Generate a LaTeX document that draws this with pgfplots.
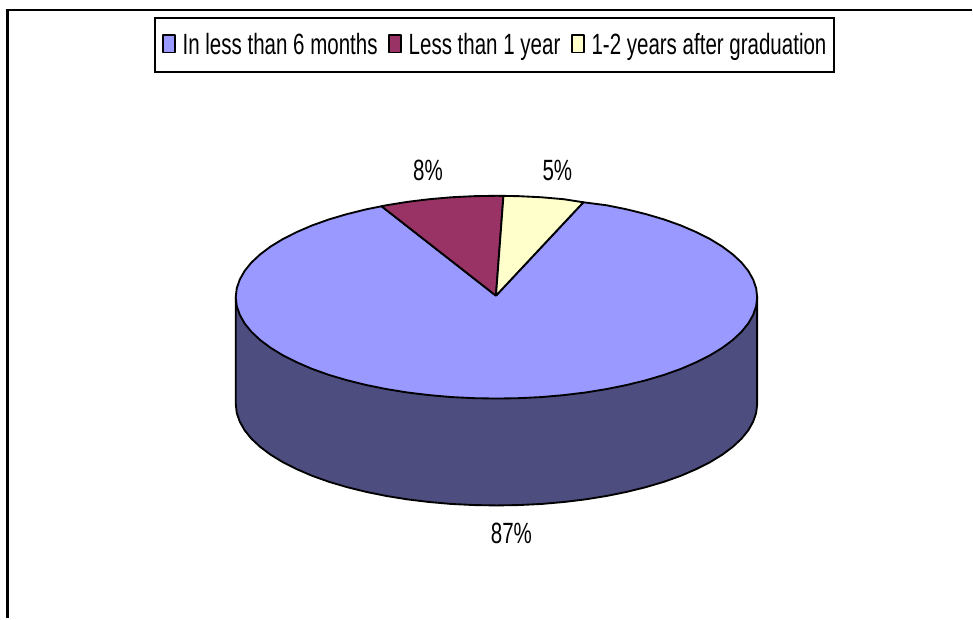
\documentclass[border=0pt]{standalone}
\usepackage{pgfplots}
\pgfplotsset{compat=1.18}
\usepackage{fontspec}
\setmainfont[FakeStretch=0.70]{Liberation Sans}
\definecolor{sliceA}{HTML}{9999FF}
\definecolor{sliceAside}{HTML}{4D4D80}
\definecolor{sliceB}{HTML}{993366}
\definecolor{sliceC}{HTML}{FFFFCC}
\newcommand{\chartfont}{\fontsize{22}{26}\selectfont}
\begin{document}
\begin{tikzpicture}[x=1pt,y=1pt]
\begin{axis}[
  scale only axis,
  width=729.75pt, height=464.25pt,
  xmin=0, xmax=973, ymin=0, ymax=619,
  y dir=reverse,
  axis lines=none,
  clip=false,
  legend columns=3,
  legend cell align=left,
  legend image code/.code={
    \draw[line width=1.4pt,#1] (0pt,1.5pt) rectangle (9pt,14.5pt);
  },
  legend style={
    at={(154/973,1-17/619)}, anchor=north west,
    draw=black, line width=1.4pt, fill=white,
    font=\chartfont, inner xsep=5.5pt, inner ysep=11.5pt,
    nodes={inner sep=0pt, anchor=base west},
    /tikz/every even column/.append style={column sep=8pt},
    /tikz/every odd column/.append style={column sep=5pt},
  },
  every axis plot/.append style={draw=black, line width=1.4pt, line join=round},
]
% Page extent, so the picture keeps its full size
\path (axis cs:0,0) rectangle (axis cs:973,619);

% Wall of the disc, under the top face
\addplot[fill=sliceAside, forget plot] coordinates {
  (236,297.5) (236,404.5) (237,413.35) (240,422.1) (244.9,430.8) (251.7,439.2)
  (260.5,447.4) (271,455.25) (283.2,462.7) (297.1,469.7) (312.4,476.3)
  (329.2,482.3) (347.3,487.65) (366.5,492.4) (386.7,496.5) (407.7,499.9)
  (429.5,502.55) (451.7,504.5) (474.2,505.6) (497,506) (519.8,505.6)
  (542.3,504.5) (564.5,502.55) (586.3,499.9) (607.3,496.5) (627.5,492.4)
  (646.7,487.65) (664.8,482.3) (681.6,476.3) (696.9,469.7) (710.8,462.7)
  (723,455.25) (733.5,447.4) (742.3,439.2) (749.1,430.8) (754,422.1)
  (757,413.35) (758,404.5) (758,297.5)
};

% Top face: In less than 6 months (87%)
\addplot[fill=sliceA] coordinates {
  (496.5,296) (584,202.5) (607.3,205.5) (627.5,209.6) (646.7,214.35) (664.8,219.7)
  (681.6,225.7) (696.9,232.3) (710.8,239.3) (723,246.75) (733.5,254.6)
  (742.3,262.8) (749.1,271.2) (754,279.9) (757,288.65) (758,297.5)
  (757,306.35) (754,315.1) (749.1,323.8) (742.3,332.2) (733.5,340.4)
  (723,348.25) (710.8,355.7) (696.9,362.7) (681.6,369.3) (664.8,375.3)
  (646.7,380.65) (627.5,385.4) (607.3,389.5) (586.3,392.9) (564.5,395.55)
  (542.3,397.5) (519.8,398.6) (497,399) (474.2,398.6) (451.7,397.5)
  (429.5,395.55) (407.7,392.9) (386.7,389.5) (366.5,385.4) (347.3,380.65)
  (329.2,375.3) (312.4,369.3) (297.1,362.7) (283.2,355.7) (271,348.25)
  (260.5,340.4) (251.7,332.2) (244.9,323.8) (240,315.1) (237,306.35) (236,297.5)
  (237,288.65) (240,279.9) (244.9,271.2) (251.7,262.8) (260.5,254.6)
  (271,246.75) (283.2,239.3) (297.1,232.3) (312.4,225.7) (329.2,219.7)
  (347.3,214.35) (366.5,209.6) (382,206.5) (496.5,296)
};
\addlegendentry{In less than 6 months}

% Top face: Less than 1 year (8%)
\addplot[fill=sliceB] coordinates {
  (496.5,296) (382,206.5) (386.7,205.5) (407.7,202.1) (429.5,199.45) (451.7,197.5)
  (474.2,196.4) (497,196) (504,196.1) (496.5,296)
};
\addlegendentry{Less than 1 year}

% Top face: 1-2 years after graduation (5%)
\addplot[fill=sliceC] coordinates {
  (496.5,296) (504,196.1) (519.8,196.4) (542.3,197.5) (564.5,199.45) (584,202.5) (496.5,296)
};
\addlegendentry{1-2 years after graduation}

% Percentage labels beside the slices
\node[font=\chartfont] at (axis cs:428.5,171) {8\%};
\node[font=\chartfont] at (axis cs:558,171) {5\%};
\node[font=\chartfont] at (axis cs:512,534) {87\%};

% Chart frame, cut off by the page on the right and at the bottom
\draw[line width=1.6pt] (axis cs:973,10) -- (axis cs:7.5,10) -- (axis cs:7.5,619);
\end{axis}
\end{tikzpicture}
\end{document}
